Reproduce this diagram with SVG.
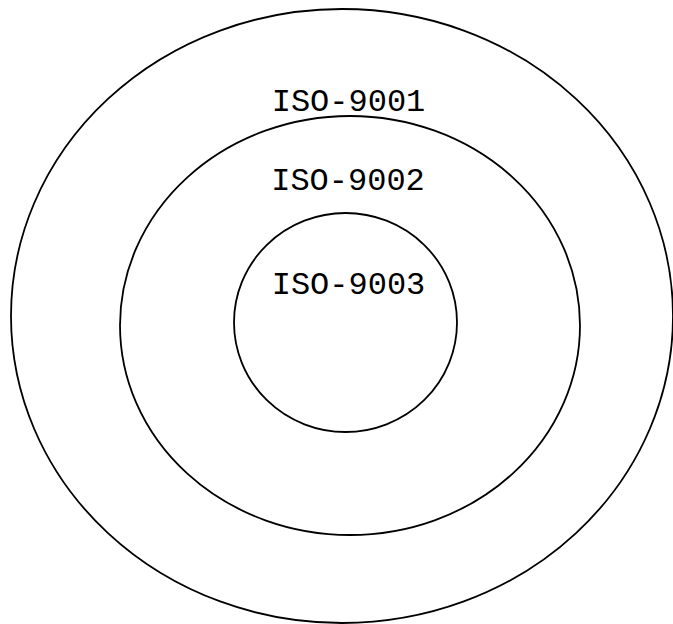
<svg xmlns="http://www.w3.org/2000/svg" width="673" height="624" viewBox="0 0 673 624">
<style>
.ring{fill:none;stroke:#000;stroke-width:1.8}
.lbl{font-family:"Liberation Mono","Courier New",monospace;font-size:32px;fill:#000;text-anchor:middle}
</style>
<rect width="673" height="624" fill="#fff"/>
<g id="iso9001">
<ellipse class="ring" cx="342" cy="316" rx="331" ry="307"/>
<text class="lbl" x="348.5" y="111">ISO-9001</text>
</g>
<g id="iso9002">
<ellipse class="ring" cx="350" cy="325.5" rx="230" ry="209.5"/>
<text class="lbl" x="348" y="190">ISO-9002</text>
</g>
<g id="iso9003">
<ellipse class="ring" cx="345.5" cy="322.5" rx="111.5" ry="109.5"/>
<text class="lbl" x="348.5" y="294">ISO-9003</text>
</g>
<g id="connectors"></g>
</svg>
